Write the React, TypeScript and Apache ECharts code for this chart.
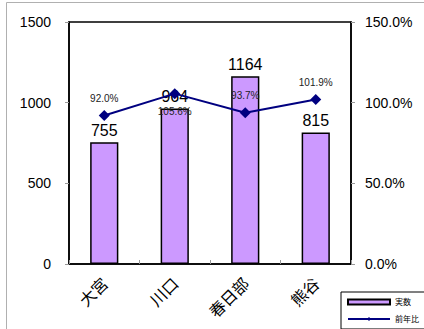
import React, { useEffect, useRef } from "react";
import * as echarts from "echarts";

const categories = ["大宮", "川口", "春日部", "熊谷"];
const actualValues = [755, 964, 1164, 815];
const ratioValues = [92.0, 105.6, 93.7, 101.9];
const ratioLabelPositions = ["top", "bottom", "top", "top"];

export default function App() {
  const ref = useRef<HTMLDivElement>(null);
  useEffect(() => {
    if (!ref.current) return;
    const chart = echarts.init(ref.current, undefined, { renderer: "svg" });
    const font = "'Liberation Sans', Arial, sans-serif";
    chart.setOption({
      animation: false,
      textStyle: { fontFamily: font },
      graphic: [
        {
          type: "rect",
          shape: { x: 6.5, y: 2.5, width: 440, height: 340 },
          style: { fill: "none", stroke: "#b0b0b0", lineWidth: 1 },
          z: 0,
        },
      ],
      grid: {
        left: 69,
        right: 73,
        top: 22,
        bottom: 65,
        show: true,
        borderColor: "#000",
        borderWidth: 1.5,
        backgroundColor: "transparent",
      },
      legend: {
        orient: "vertical",
        left: 341,
        top: 292,
        itemWidth: 42,
        itemHeight: 5,
        itemGap: 9,
        padding: [6, 40, 6, 6],
        borderColor: "#000",
        borderWidth: 1,
        textStyle: { fontSize: 8, color: "#000", fontFamily: "'Noto Sans CJK JP', sans-serif" },
        data: [
          { name: "実数", icon: "rect" },
          { name: "前年比" },
        ],
      },
      xAxis: {
        type: "category",
        data: categories,
        axisLine: { lineStyle: { color: "#000", width: 1.5 } },
        axisTick: { show: true, inside: true, length: 4, lineStyle: { color: "#999" } },
        axisLabel: {
          rotate: 45,
          fontSize: 16,
          color: "#000",
          margin: 16,
          fontFamily: "'Noto Sans CJK JP', sans-serif",
        },
      },
      yAxis: [
        {
          type: "value",
          min: 0,
          max: 1500,
          interval: 500,
          splitLine: { show: false },
          axisLine: { show: true, lineStyle: { color: "#000", width: 1.5 } },
          axisTick: { show: true, length: 4, lineStyle: { color: "#999" } },
          axisLabel: { fontSize: 14, color: "#000", margin: 18, formatter: (v: number) => String(v) },
        },
        {
          type: "value",
          min: 0,
          max: 150,
          interval: 50,
          splitLine: { show: false },
          axisLine: { show: true, lineStyle: { color: "#000", width: 1.5 } },
          axisTick: { show: true, length: 4, lineStyle: { color: "#999" } },
          axisLabel: {
            fontSize: 14,
            color: "#000",
            margin: 14,
            formatter: (v: number) => v.toFixed(1) + "%",
          },
        },
      ],
      series: [
        {
          name: "実数",
          type: "bar",
          data: actualValues,
          barWidth: "40%",
          itemStyle: { color: "#cc99ff", borderColor: "#000", borderWidth: 1.5 },
          label: { show: true, position: "top", fontSize: 16, color: "#000", distance: 4 },
        },
        {
          name: "前年比",
          type: "line",
          yAxisIndex: 1,
          data: ratioValues.map((v, i) => ({
            value: v,
            label: { position: ratioLabelPositions[i] },
          })),
          symbol: "diamond",
          symbolSize: 11,
          lineStyle: { color: "#000080", width: 2 },
          itemStyle: { color: "#000080" },
          label: {
            show: true,
            fontSize: 10,
            color: "#222",
            distance: 7,
            formatter: (p: any) => p.value.toFixed(1) + "%",
          },
          z: 5,
        },
      ],
    });
    return () => chart.dispose();
  }, []);
  return (
    <div
      ref={ref}
      style={{ position: "fixed", left: 0, top: 0, width: 424, height: 329, background: "#fff" }}
    />
  );
}
